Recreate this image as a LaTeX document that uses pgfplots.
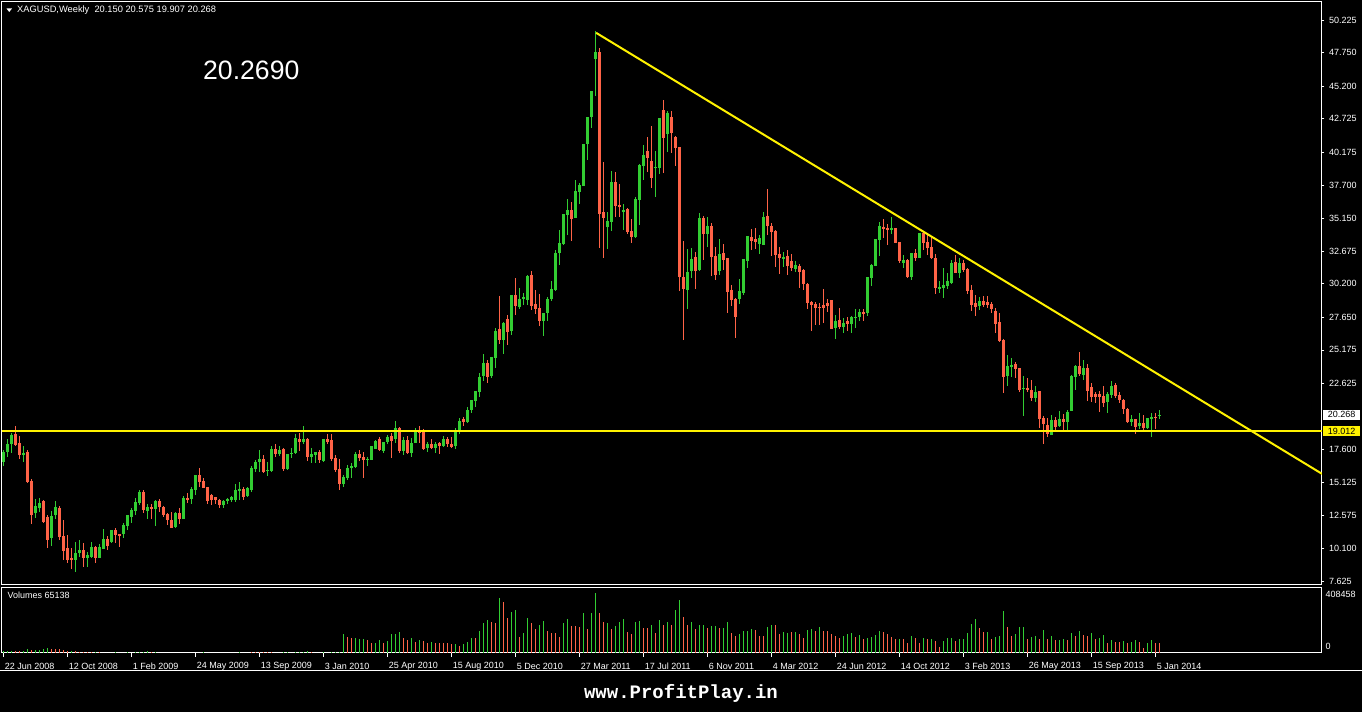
\documentclass[border=0pt]{standalone}
\usepackage{fontspec}
\setmainfont{Liberation Sans}
\newfontfamily\wmfont{Liberation Mono}
\usepackage{pgfplots}
\pgfplotsset{compat=1.18}
\usepackage{pgfplotstable}
\definecolor{upc}{RGB}{50,205,50}
\definecolor{dnc}{RGB}{255,99,71}

\pgfplotstableread{
x o h l c
0 16.69 17.57 16.38 17.45
1 17.45 18.38 17.07 18.03
2 18.03 18.84 17.37 18.71
3 18.79 19.40 17.88 17.95
4 18.08 18.64 16.89 17.19
5 17.24 17.88 16.69 17.37
6 17.40 17.57 15.10 15.17
7 15.22 15.35 11.95 12.64
8 12.81 13.85 12.38 13.32
9 13.19 13.90 12.89 13.52
10 13.70 13.78 12.00 12.13
11 12.51 12.64 10.16 10.74
12 10.92 12.94 10.31 12.56
13 12.64 13.70 12.31 13.22
14 13.19 13.32 10.74 10.99
15 11.04 12.26 9.22 9.93
16 10.16 11.12 9.02 9.22
17 9.40 10.11 8.54 9.22
18 9.22 10.61 8.33 9.73
19 9.73 10.74 9.47 9.98
20 9.98 10.49 8.71 9.35
21 9.40 9.85 8.71 9.60
22 9.47 10.61 9.35 10.23
23 10.23 10.31 9.02 9.40
24 9.40 10.43 9.35 10.23
25 10.06 11.57 10.06 10.81
26 10.79 11.04 9.98 10.28
27 10.56 11.50 10.49 11.50
28 11.50 11.62 10.49 11.12
29 11.19 11.19 10.23 11.12
30 11.17 12.00 10.87 11.88
31 11.83 12.64 11.50 12.64
32 12.51 13.14 12.05 13.02
33 12.94 13.95 12.64 13.60
34 13.57 14.54 13.40 14.36
35 14.36 14.54 12.76 13.02
36 12.94 13.47 12.33 13.22
37 13.27 13.47 12.33 13.09
38 13.09 13.78 11.83 13.70
39 13.70 13.85 12.89 13.22
40 13.27 13.35 12.51 12.64
41 12.71 12.76 11.88 12.26
42 12.26 12.89 11.62 11.68
43 11.70 12.89 11.62 12.76
44 12.76 13.19 11.95 12.33
45 12.33 14.08 12.33 13.90
46 13.90 14.28 13.52 13.83
47 13.85 14.74 13.47 14.61
48 14.54 15.67 14.16 15.67
49 15.67 16.18 14.79 15.17
50 15.22 15.42 14.66 14.71
51 14.74 14.79 13.50 13.70
52 14.16 14.23 13.40 13.80
53 13.98 14.03 13.45 13.78
54 13.75 13.85 13.20 13.40
55 13.40 13.80 13.20 13.70
56 13.70 13.95 13.50 13.85
57 13.78 14.05 13.60 13.98
58 13.78 14.99 13.60 14.54
59 14.46 15.12 13.78 14.61
60 14.61 14.74 13.78 14.03
61 14.08 14.79 14.03 14.71
62 14.54 16.36 14.41 16.18
63 16.11 16.81 15.93 16.69
64 16.69 17.57 15.93 16.89
65 16.89 17.20 15.80 15.88
66 15.98 16.64 15.62 16.06
67 15.98 17.88 15.93 17.65
68 17.65 18.03 17.07 17.27
69 17.27 17.88 17.14 17.57
70 17.65 17.73 16.00 16.13
71 16.13 17.27 16.06 17.27
72 17.32 17.70 16.94 17.37
73 17.32 18.79 17.27 18.51
74 18.38 18.84 17.52 18.21
75 18.21 19.40 18.00 18.38
76 18.41 18.46 16.76 17.07
77 17.07 17.70 16.61 17.25
78 17.20 17.45 16.61 17.40
79 17.45 17.57 16.61 16.81
80 16.74 18.41 16.69 18.41
81 18.41 18.79 18.03 18.21
82 18.33 18.79 16.76 16.87
83 16.99 17.20 15.93 16.06
84 16.13 16.89 14.54 14.99
85 14.99 15.68 14.79 15.50
86 15.42 16.44 15.30 16.23
87 16.23 16.56 15.47 16.36
88 16.26 17.40 16.18 17.27
89 17.27 17.57 16.74 16.99
90 17.07 17.45 15.47 16.81
91 16.81 17.07 16.36 16.92
92 16.81 17.88 16.81 17.88
93 17.65 18.33 17.65 18.28
94 18.41 18.54 17.50 17.57
95 17.50 18.21 17.37 18.16
96 18.16 18.71 18.03 18.59
97 18.66 18.84 16.94 18.28
98 18.38 19.78 18.08 19.27
99 19.27 19.35 17.32 17.50
100 17.50 18.59 17.20 18.33
101 18.33 18.66 17.25 17.32
102 17.32 18.46 17.07 18.08
103 18.08 19.22 18.08 19.09
104 19.09 19.40 18.08 18.89
105 19.02 19.17 17.57 17.65
106 17.70 18.21 17.45 18.03
107 18.03 18.38 17.62 17.70
108 17.70 18.21 17.32 18.03
109 18.08 18.21 17.25 17.88
110 17.90 18.66 17.83 18.41
111 18.41 18.54 17.83 18.00
112 18.03 18.59 17.70 17.78
113 17.90 19.27 17.62 19.02
114 18.97 19.98 18.76 19.80
115 19.90 20.11 19.42 19.73
116 19.73 20.86 19.65 20.61
117 20.61 21.37 20.41 21.37
118 21.32 22.05 20.86 22.05
119 22.00 23.40 21.62 23.14
120 23.19 24.87 22.84 24.16
121 24.21 24.41 22.69 23.14
122 23.19 24.61 23.07 24.61
123 24.59 26.81 23.83 26.61
124 26.74 29.27 25.62 25.93
125 25.93 27.32 24.87 27.24
126 27.52 27.82 25.55 26.56
127 26.61 29.34 26.31 29.34
128 29.34 30.66 27.83 28.53
129 28.46 29.90 28.26 29.02
130 29.10 29.47 28.59 29.14
131 28.97 30.86 28.59 30.79
132 30.86 31.17 28.21 28.51
133 28.66 29.72 27.90 28.26
134 28.33 29.42 26.99 27.37
135 27.37 28.00 26.23 27.95
136 28.00 29.22 27.37 29.02
137 29.02 30.41 28.91 29.80
138 29.72 32.76 29.65 32.56
139 32.51 34.28 31.62 33.32
140 33.22 35.49 33.14 35.49
141 35.42 36.63 33.90 35.80
142 35.80 36.43 33.47 35.11
143 35.22 38.08 35.17 37.24
144 37.19 37.82 36.25 37.70
145 37.65 40.81 37.65 40.81
146 40.81 42.88 39.60 42.88
147 42.88 44.83 42.05 44.83
148 47.27 49.39 44.45 47.77
149 47.77 48.07 32.94 35.49
150 35.62 39.42 32.18 35.22
151 34.53 35.67 32.84 34.96
152 34.91 38.76 34.20 37.90
153 37.90 38.66 35.29 36.13
154 36.18 37.77 35.29 36.00
155 35.67 36.25 34.28 35.80
156 35.87 35.92 33.95 34.15
157 34.20 35.11 33.27 33.77
158 33.72 36.78 33.65 36.63
159 36.56 39.27 34.66 39.21
160 39.16 40.73 38.07 39.97
161 40.28 41.37 38.66 39.77
162 39.52 42.18 37.44 38.20
163 39.00 40.28 36.81 39.05
164 38.96 42.81 38.53 42.81
165 43.39 44.15 38.63 41.24
166 41.54 43.31 40.18 43.19
167 42.86 43.31 40.15 41.67
168 41.37 41.44 39.14 40.53
169 40.61 40.61 29.65 30.74
170 30.74 33.44 25.93 29.80
171 29.72 32.84 28.28 31.12
172 31.17 32.94 30.66 32.08
173 32.23 32.58 29.80 31.19
174 31.24 35.60 31.17 35.22
175 35.22 35.37 32.00 33.95
176 33.95 35.29 32.96 34.61
177 34.61 34.84 30.79 32.20
178 32.30 33.01 30.48 30.86
179 31.17 33.59 30.86 32.45
180 32.56 33.21 31.24 32.00
181 32.13 32.18 28.00 29.60
182 29.72 30.10 28.53 28.97
183 29.04 29.14 26.05 27.70
184 29.04 30.53 28.64 29.65
185 29.52 32.08 29.34 32.08
186 31.95 33.82 31.42 33.82
187 33.72 34.36 32.76 33.44
188 33.59 34.41 32.81 33.39
189 33.19 33.90 32.46 33.65
190 33.14 35.67 33.14 35.24
191 35.34 37.39 33.90 34.58
192 34.58 34.79 32.33 34.15
193 34.20 34.28 31.49 32.38
194 32.46 32.96 30.94 32.13
195 32.13 32.63 31.49 32.18
196 32.30 32.76 30.86 31.57
197 31.95 32.46 31.17 31.37
198 31.32 31.93 31.07 31.63
199 31.57 31.68 29.85 31.07
200 31.25 31.30 29.73 30.18
201 30.18 30.28 28.28 28.77
202 28.84 28.89 26.61 28.59
203 28.66 28.84 27.07 28.39
204 28.46 28.71 27.07 28.39
205 28.59 29.80 27.20 28.39
206 28.77 29.04 28.03 28.54
207 28.97 28.97 26.77 26.77
208 26.82 27.83 26.01 27.37
209 27.45 28.33 26.77 26.89
210 26.94 27.58 26.44 27.25
211 27.40 27.70 26.64 27.15
212 27.15 27.75 26.49 27.70
213 27.63 28.28 26.87 27.70
214 27.65 28.28 27.37 28.08
215 28.08 28.28 27.40 27.90
216 27.96 30.74 27.78 30.74
217 30.66 31.70 30.03 31.63
218 31.55 33.60 31.55 33.60
219 33.52 34.92 32.33 34.59
220 34.54 35.12 33.65 34.36
221 34.41 34.74 33.14 34.33
222 34.28 35.30 33.98 34.46
223 34.46 34.46 33.32 33.32
224 33.40 33.40 31.75 31.93
225 31.75 32.39 31.37 32.01
226 32.01 32.08 30.61 30.74
227 30.69 32.56 30.49 32.56
228 32.51 32.82 31.93 32.18
229 32.18 34.03 32.13 34.03
230 34.03 34.21 32.76 33.27
231 33.40 33.90 32.39 32.94
232 33.02 33.78 32.08 32.13
233 32.18 32.44 29.42 29.90
234 29.80 30.41 29.47 29.98
235 29.90 31.37 29.09 30.11
236 30.06 30.99 29.80 30.41
237 30.23 32.01 30.16 31.75
238 31.83 32.39 30.99 30.99
239 30.99 32.18 30.61 31.75
240 31.75 32.01 31.07 31.25
241 31.32 31.37 29.40 29.65
242 29.73 30.11 28.13 28.59
243 28.71 29.35 27.78 28.46
244 28.54 29.22 28.21 28.89
245 28.89 29.27 28.46 28.58
246 28.84 29.27 28.39 28.59
247 28.66 28.78 28.00 28.28
248 28.13 28.38 26.48 27.14
249 27.27 27.95 25.80 25.85
250 25.93 25.98 21.93 23.14
251 23.19 24.79 22.43 23.95
252 23.90 24.53 23.14 24.03
253 24.10 24.23 23.01 23.72
254 23.77 23.82 22.00 22.13
255 22.18 23.19 20.15 22.31
256 22.31 23.07 21.95 22.13
257 22.13 22.89 21.32 21.50
258 21.50 22.43 21.24 22.00
259 22.08 22.08 19.27 19.93
260 19.98 20.18 18.03 19.55
261 19.47 19.98 18.59 18.79
262 18.71 20.23 18.71 19.85
263 19.85 20.10 19.09 19.35
264 19.42 20.53 19.35 19.93
265 19.93 20.28 19.09 19.72
266 19.72 20.61 19.09 20.48
267 20.56 23.27 20.56 23.19
268 23.14 24.03 22.13 23.95
269 23.95 25.04 23.19 23.34
270 23.27 24.41 22.89 23.82
271 23.77 24.08 21.29 22.08
272 22.38 22.69 21.24 21.62
273 21.80 22.00 21.17 21.62
274 21.82 22.08 20.48 21.62
275 21.67 22.43 20.81 21.17
276 21.19 22.00 20.41 21.82
277 21.75 22.81 21.50 22.43
278 22.51 22.69 21.55 21.70
279 21.75 22.00 21.12 21.37
280 21.37 21.42 20.31 20.66
281 20.69 20.74 19.60 19.67
282 19.67 20.23 19.42 19.93
283 19.93 19.93 18.76 19.34
284 19.40 20.36 19.14 19.60
285 19.60 20.23 18.97 19.22
286 19.22 19.98 19.17 19.98
287 19.93 20.36 18.59 20.10
288 20.10 20.36 19.17 20.05
289 20.150 20.575 19.907 20.268
}\candles

\pgfplotstableread{
x v g
0 11000 1
1 11000 1
2 11000 1
3 11000 0
4 9000 0
5 11000 1
6 25000 1
7 16000 0
8 18000 1
9 18000 1
10 25000 1
11 30000 1
12 25000 0
13 25000 0
14 23000 0
15 18000 0
16 9000 0
17 11000 1
18 11000 0
19 7000 0
20 5000 0
21 5000 0
22 5000 0
23 7000 1
24 5000 0
25 0 0
26 0 0
27 0 0
28 5000 1
29 0 0
30 0 0
31 5000 1
32 0 0
33 5000 1
34 5000 1
35 5000 1
36 11000 1
37 5000 0
38 5000 1
39 0 0
40 0 0
41 0 0
42 0 0
43 0 0
44 0 0
45 0 0
46 0 0
47 0 0
48 0 0
49 0 0
50 5000 1
51 0 0
52 0 0
53 0 0
54 0 0
55 0 0
56 0 0
57 0 0
58 0 0
59 5000 1
60 0 0
61 0 0
62 5000 0
63 7000 0
64 7000 0
65 7000 0
66 7000 0
67 5000 0
68 0 0
69 0 0
70 5000 1
71 5000 1
72 0 0
73 5000 1
74 5000 1
75 7000 1
76 11000 1
77 5000 0
78 0 0
79 0 0
80 5000 1
81 0 0
82 5000 1
83 5000 1
84 5000 1
85 127000 1
86 104000 0
87 98000 0
88 98000 1
89 91000 1
90 93000 1
91 86000 0
92 68000 0
93 68000 1
94 86000 1
95 68000 0
96 82000 1
97 127000 1
98 127000 1
99 138000 1
100 98000 0
101 86000 0
102 98000 1
103 73000 0
104 86000 1
105 79000 0
106 68000 0
107 73000 1
108 68000 0
109 68000 0
110 64000 0
111 64000 0
112 57000 0
113 59000 1
114 48000 0
115 59000 1
116 75000 1
117 98000 1
118 98000 0
119 148000 1
120 200000 1
121 222000 1
122 211000 0
123 200000 0
124 370000 1
125 347000 0
126 234000 0
127 275000 1
128 291000 1
129 109000 0
130 136000 1
131 238000 1
132 204000 0
133 159000 0
134 188000 1
135 218000 1
136 148000 0
137 136000 0
138 136000 0
139 109000 0
140 204000 1
141 227000 1
142 182000 0
143 182000 0
144 173000 0
145 268000 1
146 159000 0
147 268000 1
148 408458 1
149 268000 0
150 211000 0
151 204000 1
152 159000 0
153 182000 1
154 211000 1
155 227000 1
156 143000 0
157 127000 0
158 211000 1
159 216000 1
160 166000 0
161 170000 0
162 188000 1
163 132000 0
164 222000 1
165 188000 0
166 211000 1
167 188000 0
168 291000 1
169 359000 1
170 245000 0
171 188000 0
172 211000 1
173 161000 0
174 188000 1
175 188000 1
176 170000 0
177 182000 1
178 182000 1
179 166000 0
180 166000 1
181 211000 1
182 136000 0
183 116000 0
184 127000 1
185 148000 1
186 150000 1
187 159000 1
188 154000 0
189 116000 0
190 116000 0
191 177000 1
192 188000 1
193 188000 0
194 127000 0
195 143000 1
196 136000 1
197 138000 0
198 143000 1
199 125000 0
200 102000 0
201 154000 1
202 159000 1
203 148000 0
204 177000 1
205 148000 0
206 150000 0
207 125000 0
208 114000 0
209 98000 0
210 114000 1
211 127000 1
212 132000 1
213 104000 0
214 120000 1
215 91000 0
216 102000 1
217 109000 1
218 120000 1
219 148000 1
220 138000 0
221 125000 0
222 109000 0
223 93000 0
224 95000 1
225 93000 0
226 68000 0
227 114000 1
228 102000 0
229 68000 0
230 98000 1
231 91000 0
232 95000 1
233 79000 0
234 41000 0
235 79000 1
236 98000 1
237 98000 1
238 79000 0
239 93000 1
240 93000 1
241 136000 1
242 193000 1
243 227000 1
244 166000 0
245 138000 0
246 143000 1
247 91000 0
248 109000 1
249 116000 1
250 286000 1
251 177000 0
252 114000 0
253 127000 1
254 177000 1
255 177000 1
256 93000 0
257 104000 1
258 114000 1
259 93000 0
260 154000 1
261 91000 0
262 116000 1
263 86000 0
264 86000 1
265 91000 1
266 86000 0
267 136000 1
268 116000 0
269 150000 1
270 120000 0
271 114000 0
272 136000 1
273 93000 0
274 98000 1
275 120000 1
276 64000 0
277 86000 1
278 75000 0
279 70000 0
280 79000 1
281 68000 0
282 70000 1
283 86000 1
284 70000 0
285 30000 0
286 68000 1
287 86000 1
288 68000 0
289 65138 0
}\vols

\begin{document}
\begin{tikzpicture}[x=1pt,y=1pt]
\fill[black] (0,0) rectangle (1362,712);
\useasboundingbox (0,0) rectangle (1362,712);

\begin{axis}[
  at={(2pt,127pt)}, anchor=south west, scale only axis,
  width=1320pt, height=583pt,
  xmin=-0.33, xmax=329.67, ymin=7.325, ymax=51.59,
  axis line style={white, line width=1pt},
  xtick=\empty,
  ytick={50.225,47.75,45.2,42.725,40.175,37.7,35.15,32.675,30.2,27.65,25.175,22.625,17.6,15.125,12.575,10.1,7.625},
  yticklabels={50.225,47.750,45.200,42.725,40.175,37.700,35.150,32.675,30.200,27.650,25.175,22.625,17.600,15.125,12.575,10.100,7.625},
  ytick pos=right, yticklabel pos=right,
  tick align=outside, major tick length=2.5pt,
  tick style={white, line width=0.8pt},
  yticklabel style={font=\fontsize{9}{10}\selectfont, text=white, anchor=west, xshift=1pt},
]
% wicks
\addplot[draw=none, forget plot, restrict y to domain=0:100,
  error bars/.cd, y dir=both, y explicit, error mark=none,
  error bar style={draw=upc, line width=1pt}]
  table[x=x, y expr={\thisrow{c}>=\thisrow{o} ? 0.5*(\thisrow{h}+\thisrow{l}) : -1000},
        y error expr={0.5*(\thisrow{h}-\thisrow{l})}] {\candles};
\addplot[draw=none, forget plot, restrict y to domain=0:100,
  error bars/.cd, y dir=both, y explicit, error mark=none,
  error bar style={draw=dnc, line width=1pt}]
  table[x=x, y expr={\thisrow{c}<\thisrow{o} ? 0.5*(\thisrow{h}+\thisrow{l}) : -1000},
        y error expr={0.5*(\thisrow{h}-\thisrow{l})}] {\candles};
% bodies
\addplot[draw=none, forget plot, restrict y to domain=0:100,
  error bars/.cd, y dir=both, y explicit, error mark=none,
  error bar style={draw=upc, line width=3pt}]
  table[x=x, y expr={\thisrow{c}>=\thisrow{o} ? 0.5*(\thisrow{o}+\thisrow{c}) : -1000},
        y error expr={max(0.5*abs(\thisrow{c}-\thisrow{o}),0.04)}] {\candles};
\addplot[draw=none, forget plot, restrict y to domain=0:100,
  error bars/.cd, y dir=both, y explicit, error mark=none,
  error bar style={draw=dnc, line width=3pt}]
  table[x=x, y expr={\thisrow{c}<\thisrow{o} ? 0.5*(\thisrow{o}+\thisrow{c}) : -1000},
        y error expr={max(0.5*abs(\thisrow{c}-\thisrow{o}),0.04)}] {\candles};
% support and trend lines
\addplot[yellow, line width=2pt, forget plot] coordinates {(-1,19.012) (331,19.012)};
\addplot[yellow, line width=2pt, forget plot] coordinates {(148.2,49.25) (331,15.52)};
\coordinate (pA) at (axis cs:329.67,20.268);
\coordinate (pB) at (axis cs:329.67,19.012);
\end{axis}

\begin{axis}[
  at={(2pt,59.3pt)}, anchor=south west, scale only axis,
  width=1320pt, height=64.7pt,
  xmin=-0.33, xmax=329.67, ymin=0, ymax=440000,
  axis line style={white, line width=1pt},
  ytick=\empty,
  xtick={0,16,32,48,64,80,96,112,128,144,160,176,192,208,224,240,256,272,288},
  xticklabels={22 Jun 2008,12 Oct 2008,1 Feb 2009,24 May 2009,13 Sep 2009,3 Jan 2010,25 Apr 2010,15 Aug 2010,5 Dec 2010,27 Mar 2011,17 Jul 2011,6 Nov 2011,4 Mar 2012,24 Jun 2012,14 Oct 2012,3 Feb 2013,26 May 2013,15 Sep 2013,5 Jan 2014},
  xtick pos=bottom,
  tick align=outside, major tick length=4pt,
  tick style={white, line width=0.8pt},
  xticklabel style={font=\fontsize{9}{10}\selectfont, text=white, anchor=west, xshift=-2pt, yshift=-9.3pt},
]
\addplot[ycomb, draw=upc, line width=1pt, restrict y to domain=0:1000000, forget plot]
  table[x=x, y expr={\thisrow{g}>0 ? \thisrow{v} : -1}] {\vols};
\addplot[ycomb, draw=dnc, line width=1pt, restrict y to domain=0:1000000, forget plot]
  table[x=x, y expr={\thisrow{g}<1 ? \thisrow{v} : -1}] {\vols};
\end{axis}

% price boxes
\node[fill=white, text=black, anchor=west, minimum width=37pt, minimum height=10pt, inner sep=0.5pt, font=\fontsize{9}{10}\selectfont] at ([xshift=1pt]pA) {20.268};
\node[fill=yellow, text=black, anchor=west, minimum width=37pt, minimum height=10pt, inner sep=0.5pt, font=\fontsize{9}{10}\selectfont] at ([xshift=1pt]pB) {19.012};

% header
\fill[white] (6.5,703.5) -- (12,703.5) -- (9.25,700) -- cycle;
\node[anchor=west, text=white, inner sep=0pt, font=\fontsize{9.3}{10}\selectfont] at (17,701.5) {XAGUSD,Weekly\ \ 20.150 20.575 19.907 20.268};
\node[anchor=base west, text=white, inner sep=0pt, font=\fontsize{26.6}{28}\selectfont] at (203,632.7) {20.2690};

% volume labels
\node[anchor=west, text=white, inner sep=0pt, font=\fontsize{9}{10}\selectfont] at (7.5,116.5) {Volumes 65138};
\node[anchor=west, text=white, inner sep=0pt, font=\fontsize{9}{10}\selectfont] at (1325.5,117.3) {408458};
\node[anchor=west, text=white, inner sep=0pt, font=\fontsize{9}{10}\selectfont] at (1325.5,65.3) {0};

% bottom separator and watermark
\draw[white, line width=1pt] (0,41.3) -- (1362,41.3);
\node[anchor=base, text=white, inner sep=0pt, font=\wmfont\bfseries\fontsize{19}{21}\selectfont] at (681,14) {www.ProfitPlay.in};
\end{tikzpicture}
\end{document}
